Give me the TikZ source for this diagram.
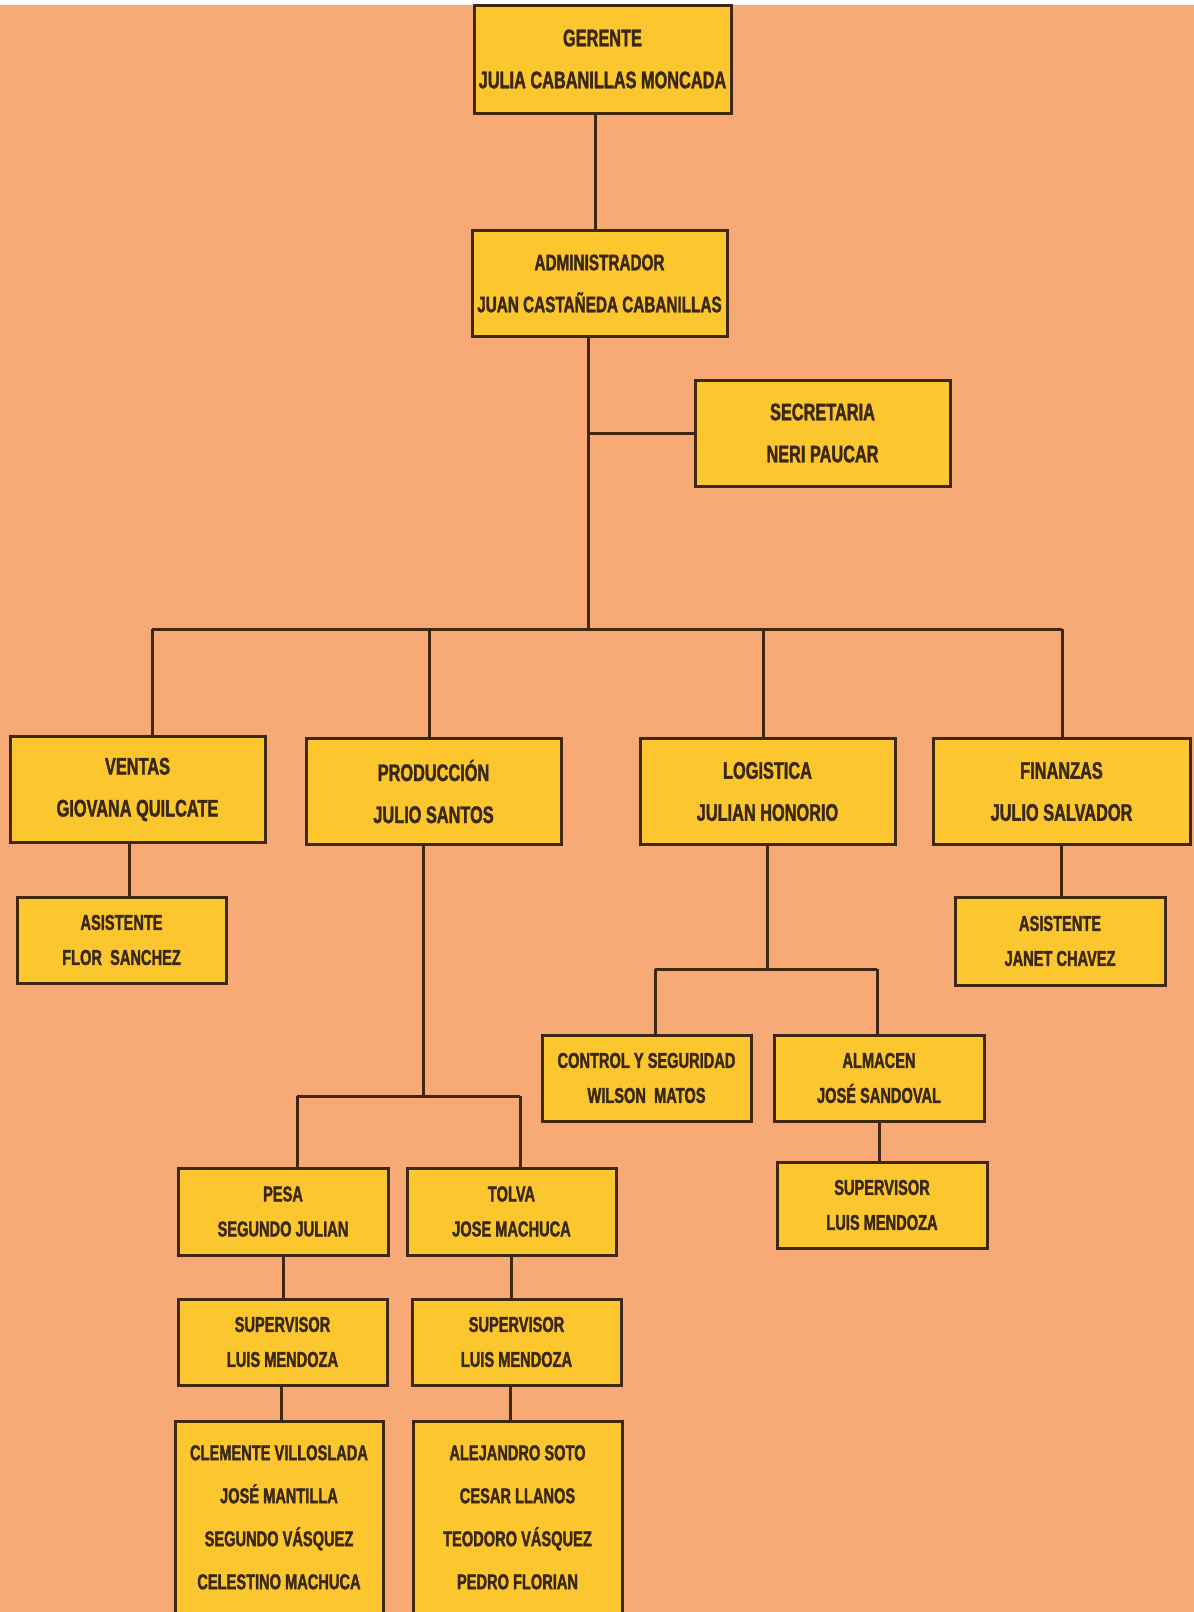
\documentclass[tikz,border=0pt]{standalone}
\usepackage{fontspec}
\setmainfont{Liberation Sans}[FakeStretch=0.68, BoldFeatures={FakeBold=1.6}]
\definecolor{fondo}{HTML}{F7AA76}
\definecolor{amarillo}{HTML}{FCC62E}
\definecolor{borde}{HTML}{3F2812}
\definecolor{texto}{HTML}{3A2812}

\tikzset{
  puesto/.style={draw=borde, fill=amarillo, line width=3pt, text=texto,
    font=\bfseries\fontsize{24}{42}\selectfont, align=center,
    minimum width=255pt, minimum height=106pt, inner sep=0pt},
  chico/.style={puesto, minimum width=209pt, minimum height=86pt,
    font=\bfseries\fontsize{21.5}{35}\selectfont},
  lista/.style={text=texto, font=\bfseries\fontsize{21.5}{43}\selectfont,
    align=center, inner sep=0pt},
  enlace/.style={draw=borde, line width=3pt}
}

\begin{document}
\begin{tikzpicture}[x=1pt, y=-1pt]
  % page
  \useasboundingbox (0,0) rectangle (1194,1612);
  \clip (0,0) rectangle (1194,1612);
  \fill[fondo] (0,0) rectangle (1194,1612);
  \fill[white] (0,0) rectangle (1194,5);

  % top levels
  \node[puesto, minimum width=257pt, minimum height=108pt] (ger) at (602.5,59)
    {GERENTE\\JULIA CABANILLAS MONCADA};
  \node[puesto, font=\bfseries\fontsize{22.5}{42}\selectfont] (adm) at (599.5,283.5)
    {ADMINISTRADOR\\JUAN CASTAÑEDA CABANILLAS};
  \node[puesto] (sec) at (822.5,433) {SECRETARIA\\NERI PAUCAR};

  % areas
  \node[puesto] (ven) at (137.5,789.5) {VENTAS\\GIOVANA QUILCATE};
  \node[puesto] (pro) at (433.5,791.5) {PRODUCCIÓN\\JULIO SANTOS};
  \node[puesto] (log) at (767.5,791.5) {LOGISTICA\\JULIAN HONORIO};
  \node[puesto, minimum width=257pt] (fin) at (1061.5,791.5) {FINANZAS\\JULIO SALVADOR};

  % assistants
  \node[chico] (asv) at (121.5,940) {ASISTENTE\\FLOR\ \ SANCHEZ};
  \node[chico, minimum width=210pt, minimum height=88pt] (asf) at (1060,941)
    {ASISTENTE\\JANET CHAVEZ};

  % logistica
  \node[chico] (ctl) at (646.5,1078) {CONTROL Y SEGURIDAD\\WILSON\ \ MATOS};
  \node[chico, minimum width=210pt] (alm) at (879,1078) {ALMACEN\\JOSÉ SANDOVAL};
  \node[chico, minimum width=210pt] (sal) at (882,1205) {SUPERVISOR\\LUIS MENDOZA};

  % produccion
  \node[chico, minimum width=210pt, minimum height=87pt] (pes) at (283,1211.5)
    {PESA\\SEGUNDO JULIAN};
  \node[chico, minimum height=87pt] (tol) at (511.5,1211.5) {TOLVA\\JOSE MACHUCA};
  \node[chico] (spe) at (282.5,1342) {SUPERVISOR\\LUIS MENDOZA};
  \node[chico] (sto) at (516.5,1342) {SUPERVISOR\\LUIS MENDOZA};
  \node[chico, minimum width=208pt, minimum height=240pt, anchor=north] (lpe)
    at (279,1420) {};
  \node[chico, minimum width=209pt, minimum height=240pt, anchor=north] (lto)
    at (517.5,1420) {};
  \node[lista, anchor=north] (lpet) at ([yshift=-25pt]lpe.north)
    {CLEMENTE VILLOSLADA\\JOSÉ MANTILLA\\SEGUNDO VÁSQUEZ\\CELESTINO MACHUCA};
  \node[lista, anchor=north] (ltot) at ([yshift=-25pt]lto.north)
    {ALEJANDRO SOTO\\CESAR LLANOS\\TEODORO VÁSQUEZ\\PEDRO FLORIAN};

  % trunk and buses
  \coordinate (e1) at (595,0);
  \coordinate (e2) at (588,0);
  \coordinate (bus) at (588,629);
  \coordinate (bsec) at (588,433);
  \draw[enlace] (ger.south -| e1) -- (adm.north -| e1);
  \draw[enlace] (adm.south -| e2) -- (bus);
  \draw[enlace] (bsec) -- (sec.west);
  \draw[enlace] (152,629) -- (1062,629);
  \foreach \n/\x in {ven/152, pro/429, log/763, fin/1062}
    \draw[enlace] (\x,629) -- (\n.north -| \x,0);

  \draw[enlace] (ven.south -| 129,0) -- (asv.north -| 129,0);
  \draw[enlace] (fin.south -| 1061,0) -- (asf.north -| 1061,0);

  % produccion branch
  \coordinate (bpro) at (423,1096);
  \draw[enlace] (pro.south -| bpro) -- (bpro);
  \draw[enlace] (297,1096) -- (520,1096);
  \draw[enlace] (297,1096) -- (pes.north -| 297,0);
  \draw[enlace] (520,1096) -- (tol.north -| 520,0);
  \draw[enlace] (pes.south -| 283,0) -- (spe.north -| 283,0);
  \draw[enlace] (spe.south -| 281,0) -- (lpe.north -| 281,0);
  \draw[enlace] (tol.south -| 511,0) -- (sto.north -| 511,0);
  \draw[enlace] (sto.south -| 510,0) -- (lto.north -| 510,0);

  % logistica branch
  \coordinate (blog) at (767,969);
  \draw[enlace] (log.south -| blog) -- (blog);
  \draw[enlace] (655,969) -- (877,969);
  \draw[enlace] (655,969) -- (ctl.north -| 655,0);
  \draw[enlace] (877,969) -- (alm.north -| 877,0);
  \draw[enlace] (alm.south -| 879,0) -- (sal.north -| 879,0);
\end{tikzpicture}
\end{document}
